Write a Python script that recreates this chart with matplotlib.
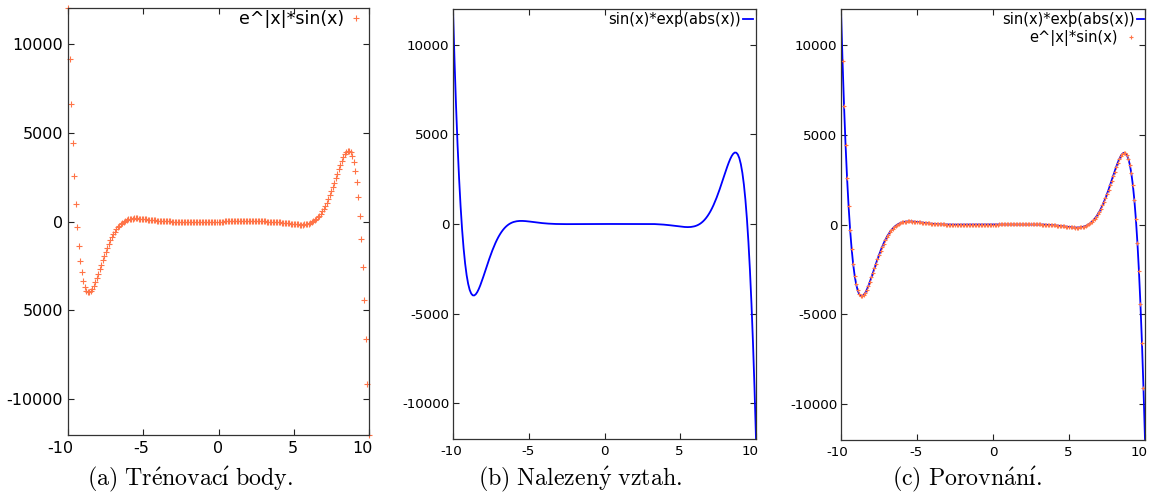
import matplotlib
matplotlib.use("Agg")
import matplotlib.pyplot as plt
import matplotlib.transforms as mtransforms

# training points of e^|x|*sin(x), x from -10 to 10 with step 0.1
train_x = [
    -10.0, -9.9, -9.8, -9.7, -9.6, -9.5, -9.4, -9.3, -9.2, -9.1,
    -9.0, -8.9, -8.8, -8.7, -8.6, -8.5, -8.4, -8.3, -8.2, -8.1,
    -8.0, -7.9, -7.8, -7.7, -7.6, -7.5, -7.4, -7.3, -7.2, -7.1,
    -7.0, -6.9, -6.8, -6.7, -6.6, -6.5, -6.4, -6.3, -6.2, -6.1,
    -6.0, -5.9, -5.8, -5.7, -5.6, -5.5, -5.4, -5.3, -5.2, -5.1,
    -5.0, -4.9, -4.8, -4.7, -4.6, -4.5, -4.4, -4.3, -4.2, -4.1,
    -4.0, -3.9, -3.8, -3.7, -3.6, -3.5, -3.4, -3.3, -3.2, -3.1,
    -3.0, -2.9, -2.8, -2.7, -2.6, -2.5, -2.4, -2.3, -2.2, -2.1,
    -2.0, -1.9, -1.8, -1.7, -1.6, -1.5, -1.4, -1.3, -1.2, -1.1,
    -1.0, -0.9, -0.8, -0.7, -0.6, -0.5, -0.4, -0.3, -0.2, -0.1,
    0.0, 0.1, 0.2, 0.3, 0.4, 0.5, 0.6, 0.7, 0.8, 0.9,
    1.0, 1.1, 1.2, 1.3, 1.4, 1.5, 1.6, 1.7, 1.8, 1.9,
    2.0, 2.1, 2.2, 2.3, 2.4, 2.5, 2.6, 2.7, 2.8, 2.9,
    3.0, 3.1, 3.2, 3.3, 3.4, 3.5, 3.6, 3.7, 3.8, 3.9,
    4.0, 4.1, 4.2, 4.3, 4.4, 4.5, 4.6, 4.7, 4.8, 4.9,
    5.0, 5.1, 5.2, 5.3, 5.4, 5.5, 5.6, 5.7, 5.8, 5.9,
    6.0, 6.1, 6.2, 6.3, 6.4, 6.5, 6.6, 6.7, 6.8, 6.9,
    7.0, 7.1, 7.2, 7.3, 7.4, 7.5, 7.6, 7.7, 7.8, 7.9,
    8.0, 8.1, 8.2, 8.3, 8.4, 8.5, 8.6, 8.7, 8.8, 8.9,
    9.0, 9.1, 9.2, 9.3, 9.4, 9.5, 9.6, 9.7, 9.8, 9.9,
    10.0,
]
train_y = [
    11983, 9119, 6609, 4434, 2574, 1004, -300, -1361, -2206, -2858,
    -3339, -3674, -3880, -3980, -3989, -3924, -3801, -3630, -3425, -3195,
    -2949, -2694, -2437, -2182, -1934, -1696, -1470, -1259, -1063, -883,
    -720, -574, -444, -329, -229, -143, -70, -9, 41, 81,
    113, 136, 153, 165, 171, 173, 171, 167, 160, 152,
    142, 132, 121, 110, 99, 88, 78, 68, 58, 49,
    41, 34, 27, 21, 16, 12, 8, 4, 1, -1,
    -3, -4, -6, -6, -7, -7, -7, -7, -7, -7,
    -7, -6, -6, -5, -5, -4, -4, -4, -3, -3,
    -2, -2, -2, -1, -1, -1, -1, 0, 0, 0,
    0, 0, 0, 0, 1, 1, 1, 1, 2, 2,
    2, 3, 3, 4, 4, 4, 5, 5, 6, 6,
    7, 7, 7, 7, 7, 7, 7, 6, 6, 4,
    3, 1, -1, -4, -8, -12, -16, -21, -27, -34,
    -41, -49, -58, -68, -78, -88, -99, -110, -121, -132,
    -142, -152, -160, -167, -171, -173, -171, -165, -153, -136,
    -113, -81, -41, 9, 70, 143, 229, 329, 444, 574,
    720, 883, 1063, 1259, 1470, 1696, 1934, 2182, 2437, 2694,
    2949, 3195, 3425, 3630, 3801, 3924, 3989, 3980, 3880, 3674,
    3339, 2858, 2206, 1361, 300, -1004, -2574, -4434, -6609, -9119,
    -11983,
]
# the found relation gives the same curve
fit_x = train_x
fit_y = train_y

x_ticks = [-10, -5, 0, 5, 10]
y_ticks = [-10000, -5000, 0, 5000, 10000]
y_labels_a = ["-10000", "5000", "0", "5000", "10000"]  # minus is missing in the source
y_labels_bc = ["-10000", "-5000", "0", "5000", "10000"]

captions = [
    r"$\mathrm{(a)\ Tr\acute{e}novac\acute{ı}\ body.}$",
    r"$\mathrm{(b)\ Nalezen\acute{y}\ vztah.}$",
    r"$\mathrm{(c)\ Porovn\acute{a}n\acute{ı}.}$",
]

plt.rcParams["mathtext.fontset"] = "cm"
plt.rcParams["font.family"] = "DejaVu Sans"

ORANGE = "#ff7448"
BLUE = "#0000ff"

fig = plt.figure(figsize=(11.51, 4.95), dpi=100)
W, H = 1151.0, 495.0


def make_axes(left, right, top, bottom):
    return fig.add_axes([left / W, 1 - bottom / H, (right - left) / W, (bottom - top) / H])


def style(ax, fs, ylabels, ypad, xshift):
    ax.set_xlim(-10, 10)
    ax.set_ylim(-12000, 12000)
    ax.set_xticks(x_ticks)
    ax.set_xticklabels([str(t) for t in x_ticks])
    ax.set_yticks(y_ticks)
    ax.set_yticklabels(ylabels)
    ax.tick_params(direction="in", length=4, width=0.8, top=True, right=True,
                   labelsize=fs, color="#222222")
    ax.tick_params(axis="x", pad=4)
    ax.tick_params(axis="y", pad=ypad)
    for s in ax.spines.values():
        s.set_linewidth(0.9)
        s.set_color("#333333")
    # gnuplot puts the x labels a little to the left
    for lab, dx in zip(ax.get_xticklabels(), xshift):
        off = mtransforms.ScaledTranslation(dx / 100.0, 0, fig.dpi_scale_trans)
        lab.set_transform(lab.get_transform() + off)


ax1 = make_axes(68, 369, 8, 435)
ax2 = make_axes(453, 756, 9, 439)
ax3 = make_axes(841, 1145, 9, 440)

# (a) training points
ax1.plot(train_x, train_y, linestyle="none", marker="+", ms=3.8, mew=0.8,
         color=ORANGE, label="e^|x|*sin(x)", clip_on=False)
style(ax1, 11.5, y_labels_a, 3.5, [-8, -2, 0, -1, -7])
ax1.legend(loc="upper right", bbox_to_anchor=(0.98, 0.995), frameon=False,
           markerfirst=False, handlelength=0.8, handletextpad=0.3,
           borderaxespad=0, borderpad=0, numpoints=1, fontsize=12.5)

# (b) found relation
ax2.plot(fit_x, fit_y, color=BLUE, lw=1.3, label="sin(x)*exp(abs(x))")
style(ax2, 9.7, y_labels_bc, 2.5, [-2, -1, 0, -1, -6])
ax2.legend(loc="upper right", bbox_to_anchor=(0.99, 0.993), frameon=False,
           markerfirst=False, handlelength=0.7, handletextpad=0.1,
           borderaxespad=0, borderpad=0, fontsize=10.5)

# (c) comparison
line_c, = ax3.plot(fit_x, fit_y, color=BLUE, lw=1.3, label="sin(x)*exp(abs(x))")
pts_c, = ax3.plot(train_x, train_y, linestyle="none", marker="+", ms=3.5, mew=0.8,
                  color=ORANGE, label="e^|x|*sin(x)")
style(ax3, 9.7, y_labels_bc, 2.5, [-4, -1, 0, -1, -6])
leg1 = ax3.legend(handles=[line_c], loc="upper right", bbox_to_anchor=(0.997, 0.993),
                  frameon=False, markerfirst=False, handlelength=0.5, handletextpad=0.15,
                  borderaxespad=0, borderpad=0, fontsize=10.5)
ax3.add_artist(leg1)
ax3.legend(handles=[pts_c], loc="upper right", bbox_to_anchor=(0.975, 0.952),
           frameon=False, markerfirst=False, handlelength=0.9, handletextpad=0.45,
           borderaxespad=0, borderpad=0, numpoints=1, fontsize=10.5)

for cx, text in zip([190, 580, 967], captions):
    fig.text(cx / W, 1 - 479 / H, text, ha="center", va="center", fontsize=17.2)

fig.savefig("out.png", dpi=100)
